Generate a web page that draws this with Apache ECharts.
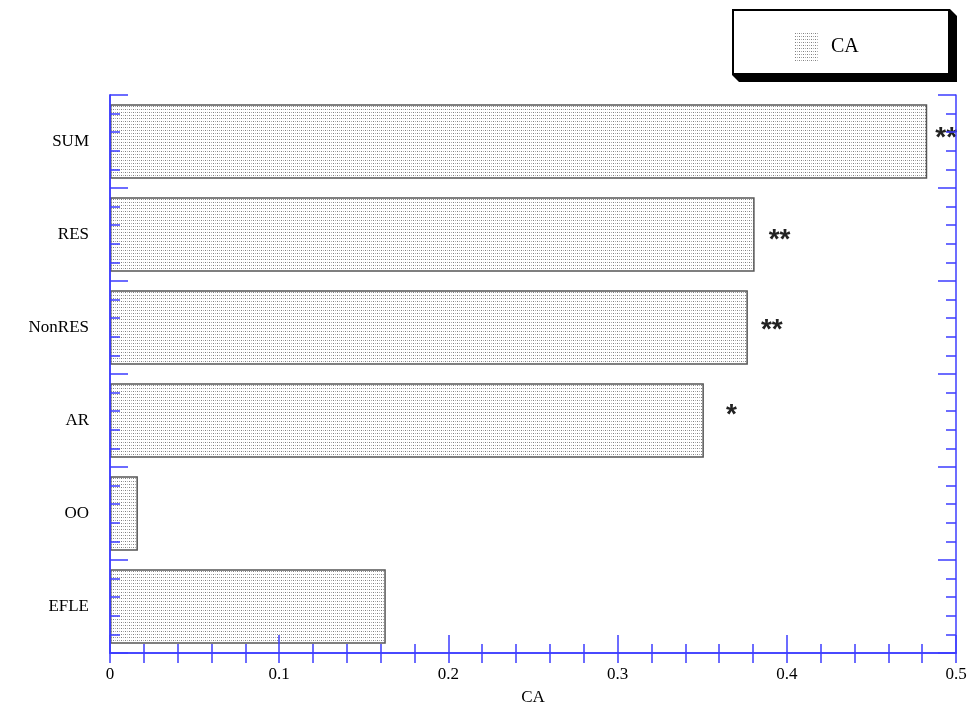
<!DOCTYPE html>
<html>
<head>
<meta charset="utf-8">
<script src="https://cdn.jsdelivr.net/npm/echarts@6/dist/echarts.min.js"></script>
<style>html,body{margin:0;padding:0;background:#fff;overflow:hidden;}#c{width:970px;height:704px;}</style>
</head>
<body>
<div id="c"></div>
<script>
const categories = ['SUM', 'RES', 'NonRES', 'AR', 'OO', 'EFLE'];
const caValues = [0.483, 0.381, 0.377, 0.351, 0.0165, 0.163];
const significance = ['**', '**', '**', '*', '', ''];
const seriesName = 'CA';
const axisName = 'CA';

// style-only: label gaps and vertical shifts per bar
const labelGaps = [8, 14, 13, 22, 0, 0];
const labelShifts = [-3, 6, 3, -5, 0, 0];

const BLUE = '#3c3cff';
const SERIF = '"Liberation Serif", "Times New Roman", serif';

function makePattern() {
  const c = document.createElement('canvas');
  c.width = 4; c.height = 3;
  const ctx = c.getContext('2d');
  ctx.fillStyle = '#ffffff';
  ctx.fillRect(0, 0, 4, 3);
  ctx.fillStyle = '#808080';
  ctx.fillRect(1, 1, 1, 1);
  ctx.fillStyle = '#b0b0b0';
  ctx.fillRect(3, 1, 1, 1);
  return c;
}
const pattern = { image: makePattern(), repeat: 'repeat' };

const chart = echarts.init(document.getElementById('c'), null, { renderer: 'canvas', width: 970, height: 704 });

const option = {
  animation: false,
  backgroundColor: '#fff',
  grid: { left: 110, top: 95, width: 846, height: 558, containLabel: false, outerBoundsMode: 'none' },
  graphic: [
    { type: 'polygon', z: 0, shape: { points: [[950, 9], [957, 16], [957, 82], [739, 82], [732, 75]] }, style: { fill: '#000' } },
    { type: 'rect', z: 1, shape: { x: 733, y: 10, width: 216, height: 64 }, style: { fill: '#fff', stroke: '#000', lineWidth: 2 } }
  ],
  legend: {
    left: 789, top: 27, z: 10,
    itemWidth: 24, itemHeight: 30, itemGap: 10,
    icon: 'rect',
    itemStyle: { borderWidth: 0 },
    textStyle: { fontFamily: SERIF, fontSize: 20, color: '#000', padding: [0, 0, 0, 8] },
    data: [seriesName]
  },
  xAxis: [
    {
      type: 'value', position: 'bottom', min: 0, max: 0.5, interval: 0.1, z: 10,
      name: axisName, nameLocation: 'middle', nameGap: 36,
      nameTextStyle: { fontFamily: SERIF, fontSize: 17, color: '#000' },
      axisLine: { show: true, lineStyle: { color: BLUE, width: 1.5 } },
      axisTick: { show: true, inside: true, length: 18, lineStyle: { color: BLUE, width: 1.5 } },
      minorTick: { show: true, splitNumber: 5, length: 9, lineStyle: { color: BLUE, width: 1.5 } },
      axisLabel: { fontFamily: SERIF, fontSize: 17, color: '#000', margin: 13, formatter: v => String(v) },
      splitLine: { show: false }
    },
    {
      type: 'value', position: 'top', min: 0, max: 0.5, interval: 0.02, z: 10,
      axisLine: { show: true, lineStyle: { color: BLUE, width: 1.5 } },
      axisTick: { show: true, inside: true, length: 10, lineStyle: { color: BLUE, width: 1.5 } },
      axisLabel: { show: false },
      splitLine: { show: false }
    }
  ],
  yAxis: [
    {
      type: 'category', inverse: true, data: categories, position: 'left', z: 10,
      axisLine: { show: true, lineStyle: { color: BLUE, width: 1.5 } },
      axisTick: { show: false },
      axisLabel: { fontFamily: SERIF, fontSize: 17, color: '#000', margin: 21 },
      splitLine: { show: false }
    },
    {
      type: 'value', position: 'left', min: 0, max: 6, interval: 1, z: 10,
      axisLine: { show: true, lineStyle: { color: BLUE, width: 1.5 } },
      axisTick: { show: true, inside: true, length: 18, lineStyle: { color: BLUE, width: 1.5 } },
      minorTick: { show: true, splitNumber: 5, length: 10, lineStyle: { color: BLUE, width: 1.5 } },
      axisLabel: { show: false },
      splitLine: { show: false }
    },
    {
      type: 'value', position: 'right', min: 0, max: 6, interval: 1, z: 10,
      axisLine: { show: true, lineStyle: { color: BLUE, width: 1.5 } },
      axisTick: { show: true, inside: true, length: 18, lineStyle: { color: BLUE, width: 1.5 } },
      minorTick: { show: true, splitNumber: 5, length: 10, lineStyle: { color: BLUE, width: 1.5 } },
      axisLabel: { show: false },
      splitLine: { show: false }
    }
  ],
  series: [
    {
      name: seriesName,
      type: 'bar',
      xAxisIndex: 0, yAxisIndex: 0,
      barCategoryGap: '20%',
      z: 1,
      itemStyle: { color: pattern, borderColor: '#555', borderWidth: 1.5 },
      data: caValues.map((v, i) => ({
        value: v,
        label: {
          show: significance[i] !== '',
          formatter: significance[i],
          position: 'right',
          distance: labelGaps[i],
          offset: [0, labelShifts[i]],
          fontFamily: '"Liberation Sans", Arial, sans-serif',
          fontWeight: 'bold',
          fontSize: 28,
          color: '#222'
        }
      }))
    }
  ]
};
chart.setOption(option);
</script>
</body>
</html>
